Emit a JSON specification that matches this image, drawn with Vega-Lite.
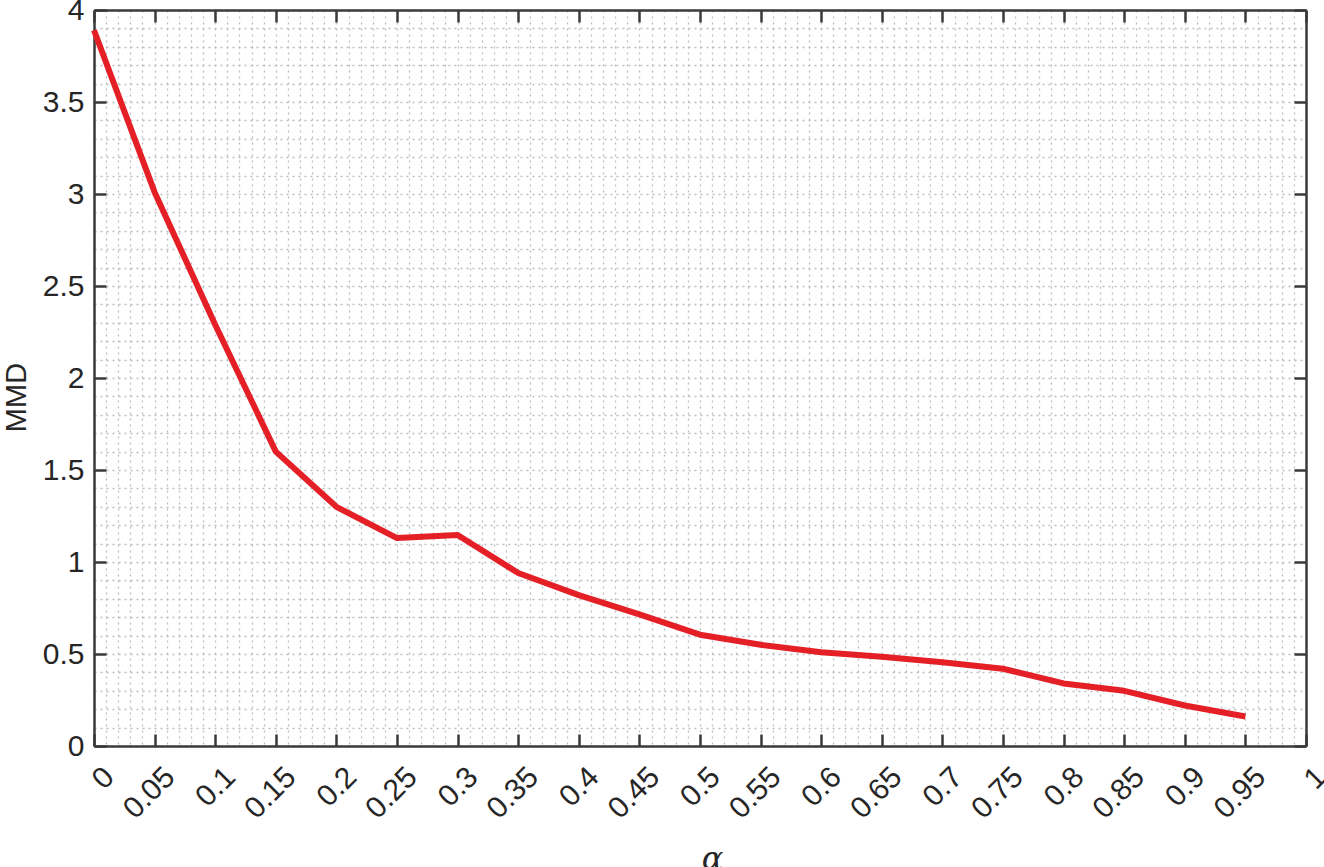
{
"$schema": "https://vega.github.io/schema/vega-lite/v6.json",
"width": 1212,
"height": 736,
"autosize": {"type": "none"},
"padding": {"left": 94, "top": 10, "right": 18, "bottom": 121},
"background": "white",
"config": {"view": {"stroke": null}, "axis": {"labelFont": "Liberation Sans", "titleFont": "Liberation Sans", "labelColor": "#262626", "titleColor": "#262626"}},
"data": {"values": [
{"alpha": 0, "mmd": 3.89},
{"alpha": 0.05, "mmd": 3.01},
{"alpha": 0.1, "mmd": 2.29},
{"alpha": 0.15, "mmd": 1.6},
{"alpha": 0.2, "mmd": 1.3},
{"alpha": 0.25, "mmd": 1.13},
{"alpha": 0.3, "mmd": 1.147},
{"alpha": 0.35, "mmd": 0.94},
{"alpha": 0.4, "mmd": 0.82},
{"alpha": 0.45, "mmd": 0.715},
{"alpha": 0.5, "mmd": 0.605},
{"alpha": 0.55, "mmd": 0.55},
{"alpha": 0.6, "mmd": 0.51},
{"alpha": 0.65, "mmd": 0.485},
{"alpha": 0.7, "mmd": 0.455},
{"alpha": 0.75, "mmd": 0.42},
{"alpha": 0.8, "mmd": 0.34},
{"alpha": 0.85, "mmd": 0.3},
{"alpha": 0.9, "mmd": 0.22},
{"alpha": 0.95, "mmd": 0.16}
]},
"resolve": {"axis": {"x": "independent", "y": "independent"}},
"layer": [
{
"mark": {"type": "line", "strokeOpacity": 0},
"encoding": {
"x": {"field": "alpha", "type": "quantitative", "scale": {"domain": [0, 1], "nice": false, "zero": false},
"axis": {"orient": "bottom", "title": null, "labels": false, "ticks": false, "domain": false, "grid": true, "gridColor": "#bdbdbd", "gridDash": [2, 4], "gridWidth": 1.3,
"values": [0,0.01,0.02,0.03,0.04,0.05,0.06,0.07,0.08,0.09,0.1,0.11,0.12,0.13,0.14,0.15,0.16,0.17,0.18,0.19,0.2,0.21,0.22,0.23,0.24,0.25,0.26,0.27,0.28,0.29,0.3,0.31,0.32,0.33,0.34,0.35,0.36,0.37,0.38,0.39,0.4,0.41,0.42,0.43,0.44,0.45,0.46,0.47,0.48,0.49,0.5,0.51,0.52,0.53,0.54,0.55,0.56,0.57,0.58,0.59,0.6,0.61,0.62,0.63,0.64,0.65,0.66,0.67,0.68,0.69,0.7,0.71,0.72,0.73,0.74,0.75,0.76,0.77,0.78,0.79,0.8,0.81,0.82,0.83,0.84,0.85,0.86,0.87,0.88,0.89,0.9,0.91,0.92,0.93,0.94,0.95,0.96,0.97,0.98,0.99,1]}},
"y": {"field": "mmd", "type": "quantitative", "scale": {"domain": [0, 4], "nice": false},
"axis": {"orient": "left", "title": null, "labels": false, "ticks": false, "domain": false, "grid": true, "gridColor": "#bdbdbd", "gridDash": [2, 4], "gridWidth": 1.3,
"values": [0,0.1,0.2,0.3,0.4,0.5,0.6,0.7,0.8,0.9,1,1.1,1.2,1.3,1.4,1.5,1.6,1.7,1.8,1.9,2,2.1,2.2,2.3,2.4,2.5,2.6,2.7,2.8,2.9,3,3.1,3.2,3.3,3.4,3.5,3.6,3.7,3.8,3.9,4]}}
}
},
{
"mark": {"type": "line", "strokeOpacity": 0},
"encoding": {
"x": {"field": "alpha", "type": "quantitative",
"axis": {"orient": "top", "title": null, "labels": false, "grid": false, "ticks": true, "tickSize": -12, "tickWidth": 2.5, "tickColor": "#3a3a3a", "domain": true, "domainColor": "#3a3a3a", "domainWidth": 2.5,
"values": [0,0.05,0.1,0.15,0.2,0.25,0.3,0.35,0.4,0.45,0.5,0.55,0.6,0.65,0.7,0.75,0.8,0.85,0.9,0.95,1]}},
"y": {"field": "mmd", "type": "quantitative",
"axis": {"orient": "right", "title": null, "labels": false, "grid": false, "ticks": true, "tickSize": -12, "tickWidth": 2.5, "tickColor": "#3a3a3a", "domain": true, "domainColor": "#3a3a3a", "domainWidth": 2.5,
"values": [0,0.5,1,1.5,2,2.5,3,3.5,4]}}
}
},
{
"mark": {"type": "line", "strokeOpacity": 0},
"encoding": {
"x": {"field": "alpha", "type": "quantitative",
"axis": {"orient": "bottom", "title": null, "labels": false, "grid": false, "ticks": true, "tickSize": -12, "tickWidth": 2.5, "tickColor": "#3a3a3a", "domain": true, "domainColor": "#3a3a3a", "domainWidth": 2.5,
"values": [0,0.05,0.1,0.15,0.2,0.25,0.3,0.35,0.4,0.45,0.5,0.55,0.6,0.65,0.7,0.75,0.8,0.85,0.9,0.95,1]}},
"y": {"field": "mmd", "type": "quantitative",
"axis": {"orient": "left", "title": null, "labels": false, "grid": false, "ticks": true, "tickSize": -12, "tickWidth": 2.5, "tickColor": "#3a3a3a", "domain": true, "domainColor": "#3a3a3a", "domainWidth": 2.5,
"values": [0,0.5,1,1.5,2,2.5,3,3.5,4]}}
}
},
{
"mark": {"type": "line", "color": "#e41f26", "strokeWidth": 6, "strokeJoin": "round", "strokeCap": "butt"},
"encoding": {
"x": {"field": "alpha", "type": "quantitative",
"axis": {"orient": "bottom", "grid": false, "ticks": false, "domain": false, "format": "~g",
"values": [0,0.05,0.1,0.15,0.2,0.25,0.3,0.35,0.4,0.45,0.5,0.55,0.6,0.65,0.7,0.75,0.8,0.85,0.9,0.95,1],
"labelAngle": -45, "labelAlign": "right", "labelBaseline": "middle", "labelPadding": 26, "labelOffset": 15, "labelFontSize": 30, "labelOverlap": false, "labelFlush": false, "labelBound": false,
"title": "α", "titleFont": "DejaVu Serif", "titleFontStyle": "italic", "titleFontWeight": "normal", "titleFontSize": 32, "titleX": 618, "titleY": 112, "titleBaseline": "middle", "titleAlign": "center"}},
"y": {"field": "mmd", "type": "quantitative",
"axis": {"orient": "left", "grid": false, "ticks": false, "domain": false, "format": "~g",
"values": [0,0.5,1,1.5,2,2.5,3,3.5,4],
"labelPadding": 10, "labelFontSize": 30, "labelOverlap": false, "labelFlush": false, "labelBound": false,
"title": "MMD", "titleFontSize": 29, "titleFontWeight": "normal", "titleX": -78, "titleY": 387, "titleBaseline": "middle", "titleAlign": "center", "titleAngle": -90}}
}
}
]
}
